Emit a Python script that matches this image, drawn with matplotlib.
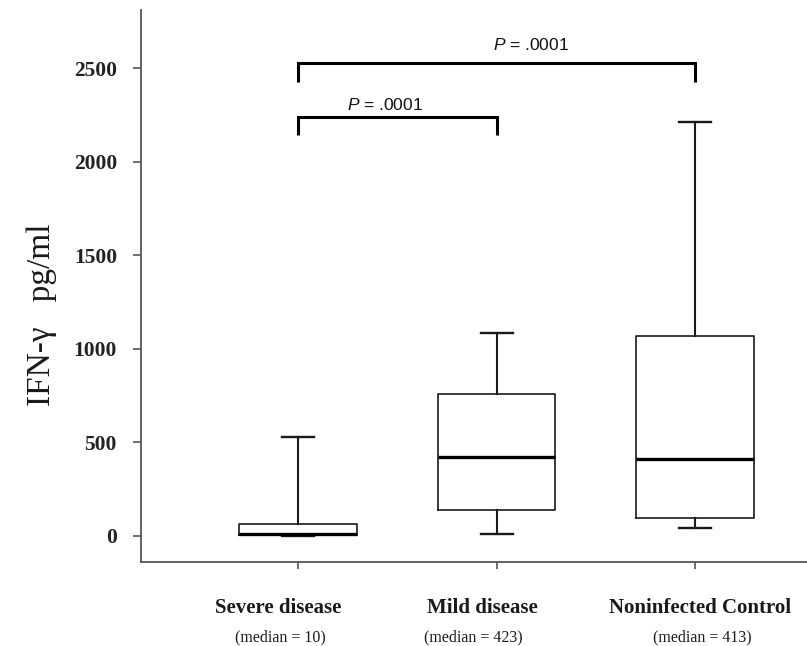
import matplotlib
matplotlib.use("Agg")
import matplotlib.pyplot as plt

plt.rcParams["mathtext.fontset"] = "custom"
plt.rcParams["mathtext.it"] = "Liberation Sans:italic"
plt.rcParams["mathtext.rm"] = "Liberation Sans"

categories = ["Severe disease", "Mild disease", "Noninfected Control"]
medians_text = ["(median = 10)", "(median = 423)", "(median = 413)"]
whisker_low = [0, 12, 43]
q1 = [5, 137, 96]
median = [10, 422, 413]
q3 = [64, 759, 1070]
whisker_high = [528, 1087, 2213]
yticks = [0, 500, 1000, 1500, 2000, 2500]
p_labels = [".0001", ".0001"]

W, H = 807, 646
fig = plt.figure(figsize=(W / 100, H / 100), dpi=100)
ax_left, ax_bottom, ax_top, ax_right = 140.7, 562.3, 10, 807
ax = fig.add_axes([ax_left / W, (H - ax_bottom) / H,
                   (ax_right - ax_left) / W, (ax_bottom - ax_top) / H])

positions = [1, 2, 3]
stats = []
for i in range(3):
    stats.append(dict(med=median[i], q1=q1[i], q3=q3[i],
                      whislo=whisker_low[i], whishi=whisker_high[i], fliers=[]))
ax.bxp(stats, positions=positions, widths=0.594, capwidths=0.161,
       showfliers=False, patch_artist=False,
       boxprops=dict(color="#1a1a1a", linewidth=1.2),
       whiskerprops=dict(color="#1a1a1a", linewidth=1.5),
       capprops=dict(color="#1a1a1a", linewidth=1.7),
       medianprops=dict(color="black", linewidth=2.4))

ax.set_xlim(0.2076, 3.564)
ax.set_ylim(-140.6, 2811)
ax.set_xticks(positions)
ax.set_xticklabels([""] * 3)
ax.set_yticks(yticks)
ax.set_yticklabels([str(v) for v in yticks], fontfamily="Liberation Serif",
                   fontweight="bold", fontsize=15.5, color="#222222")
ax.tick_params(axis="y", direction="out", length=5.8, width=1.2, color="#555555", pad=11.3)
ax.tick_params(axis="x", direction="out", length=5, width=1.2, color="#555555")
for s in ["top", "right"]:
    ax.spines[s].set_visible(False)
for s in ["left", "bottom"]:
    ax.spines[s].set_color("#555555")
    ax.spines[s].set_linewidth(1.3)

ax.set_ylabel("IFN-\u03b3   pg/ml", fontfamily="Liberation Serif", fontsize=24,
              color="#1a1a1a")
ax.yaxis.set_label_coords(-0.1256, 0.448)

# category labels (centres)
label_x = [0.899, 1.927, 3.025]
median_x = [0.909, 1.884, 3.035]
for i in range(3):
    ax.text(label_x[i], -(608 - ax_bottom) / (ax_bottom - ax_top), categories[i],
            transform=ax.get_xaxis_transform(), ha="center", va="center",
            fontfamily="Liberation Serif", fontweight="bold", fontsize=15,
            color="#1a1a1a")
    ax.text(median_x[i], -(637 - ax_bottom) / (ax_bottom - ax_top), medians_text[i],
            transform=ax.get_xaxis_transform(), ha="center", va="center",
            fontfamily="Liberation Serif", fontsize=11.5, color="#1a1a1a")

# significance brackets
def bracket(x1, x2, ytop, ybot, label, lx, ly):
    ax.plot([x1, x1, x2, x2], [ybot, ytop, ytop, ybot], color="black",
            linewidth=2.2, solid_joinstyle="miter", solid_capstyle="butt",
            clip_on=False)
    ax.text(lx, ly, "$\\mathit{P}$ = " + label, ha="left", va="center",
            fontsize=12.5, fontfamily="Liberation Sans", color="#111111")

bracket(1, 3, 2526, 2428, p_labels[0], 1.982, 2624)
bracket(1, 2, 2238, 2143, p_labels[1], 1.247, 2304)

fig.savefig("out.png", dpi=100)
